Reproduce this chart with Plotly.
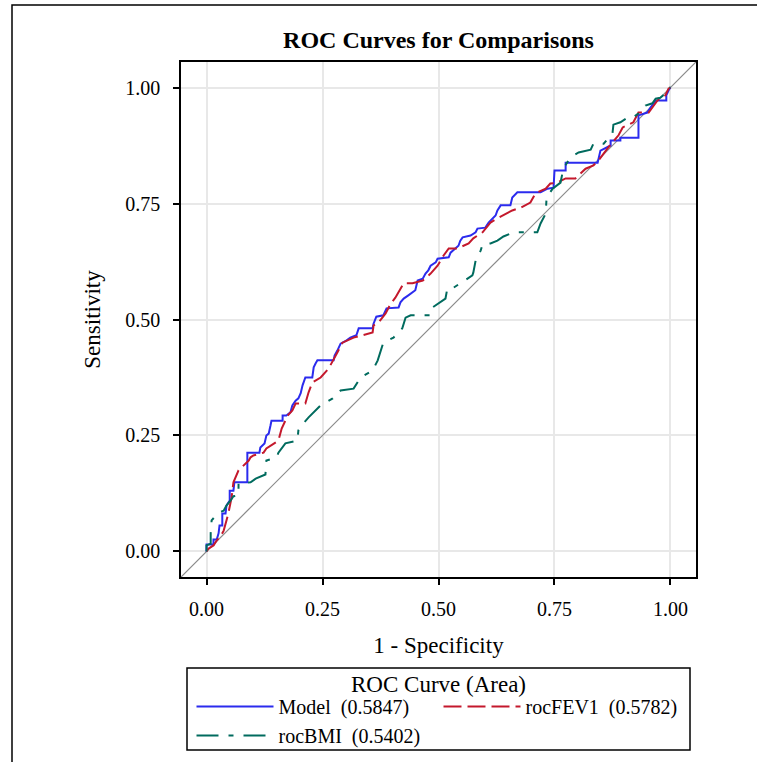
import plotly.graph_objects as go

# ---------------- data ----------------
model_fpr = [0, 0, 0.015, 0.015, 0.022, 0.026, 0.028, 0.034, 0.034, 0.041, 0.043, 0.050, 0.050, 0.058, 0.060,
             0.088, 0.088, 0.114, 0.116, 0.125, 0.129, 0.134, 0.138, 0.140, 0.164, 0.164, 0.172, 0.181, 0.185,
             0.192, 0.198, 0.203, 0.207, 0.213, 0.228, 0.231, 0.235, 0.239, 0.274, 0.276, 0.282, 0.289, 0.302,
             0.310, 0.323, 0.328, 0.358, 0.360, 0.366, 0.381, 0.388, 0.414, 0.418, 0.425, 0.435, 0.450, 0.455,
             0.466, 0.472, 0.478, 0.483, 0.494, 0.498, 0.522, 0.526, 0.532, 0.543, 0.547, 0.552, 0.569, 0.580,
             0.584, 0.601, 0.608, 0.623, 0.627, 0.634, 0.655, 0.659, 0.670, 0.720, 0.735, 0.748, 0.750, 0.774,
             0.774, 0.843, 0.849, 0.871, 0.871, 0.892, 0.892, 0.931, 0.931, 0.950, 0.957, 0.968, 0.991, 0.991,
             0.996, 1.0]
model_tpr = [0, 0.015, 0.015, 0.026, 0.026, 0.039, 0.056, 0.056, 0.082, 0.082, 0.099, 0.110, 0.131, 0.131, 0.149,
             0.149, 0.213, 0.213, 0.224, 0.233, 0.250, 0.254, 0.272, 0.282, 0.282, 0.293, 0.293, 0.300, 0.315,
             0.325, 0.330, 0.341, 0.358, 0.375, 0.375, 0.397, 0.405, 0.412, 0.412, 0.422, 0.433, 0.448, 0.455,
             0.461, 0.466, 0.481, 0.481, 0.491, 0.506, 0.509, 0.524, 0.526, 0.537, 0.545, 0.552, 0.563, 0.584,
             0.588, 0.599, 0.606, 0.616, 0.623, 0.631, 0.634, 0.644, 0.649, 0.659, 0.670, 0.677, 0.681, 0.688,
             0.696, 0.698, 0.709, 0.724, 0.735, 0.746, 0.746, 0.763, 0.774, 0.774, 0.782, 0.784, 0.821, 0.821,
             0.838, 0.838, 0.864, 0.875, 0.886, 0.886, 0.892, 0.892, 0.940, 0.946, 0.957, 0.972, 0.972, 0.983,
             0.994, 1.0]

fev1_fpr = [0, 0.004, 0.015, 0.022, 0.030, 0.037, 0.043, 0.047, 0.054, 0.058, 0.069, 0.073, 0.091, 0.095, 0.101,
            0.123, 0.129, 0.155, 0.162, 0.175, 0.185, 0.192, 0.213, 0.220, 0.228, 0.246, 0.263, 0.282, 0.293,
            0.317, 0.338, 0.358, 0.360, 0.371, 0.386, 0.397, 0.407, 0.425, 0.444, 0.466, 0.483, 0.498, 0.511,
            0.522, 0.541, 0.565, 0.575, 0.595, 0.612, 0.627, 0.659, 0.677, 0.698, 0.709, 0.731, 0.741, 0.756,
            0.774, 0.795, 0.806, 0.817, 0.834, 0.845, 0.866, 0.888, 0.897, 0.920, 0.931, 0.953, 0.961, 0.972,
            0.989, 0.996, 1.0]
fev1_tpr = [0, 0.006, 0.013, 0.024, 0.032, 0.045, 0.067, 0.082, 0.116, 0.149, 0.175, 0.179, 0.196, 0.203, 0.207,
            0.213, 0.222, 0.239, 0.265, 0.293, 0.304, 0.319, 0.319, 0.343, 0.364, 0.375, 0.394, 0.429, 0.450,
            0.461, 0.466, 0.472, 0.487, 0.494, 0.513, 0.534, 0.547, 0.578, 0.578, 0.584, 0.599, 0.616, 0.638,
            0.653, 0.653, 0.664, 0.675, 0.688, 0.709, 0.718, 0.735, 0.741, 0.752, 0.772, 0.782, 0.793, 0.795,
            0.804, 0.804, 0.815, 0.825, 0.832, 0.843, 0.871, 0.897, 0.914, 0.925, 0.946, 0.946, 0.957, 0.972,
            0.983, 0.998, 1.0]

bmi_fpr = [0, 0, 0.009, 0.009, 0.011, 0.026, 0.037, 0.043, 0.052, 0.058, 0.069, 0.069, 0.095, 0.106, 0.127,
           0.129, 0.151, 0.155, 0.170, 0.177, 0.196, 0.198, 0.205, 0.220, 0.246, 0.272, 0.289, 0.317, 0.332,
           0.358, 0.369, 0.381, 0.403, 0.422, 0.429, 0.440, 0.483, 0.487, 0.504, 0.515, 0.519, 0.530, 0.547,
           0.573, 0.575, 0.580, 0.591, 0.595, 0.612, 0.627, 0.640, 0.662, 0.713, 0.720, 0.731, 0.733, 0.746,
           0.763, 0.767, 0.772, 0.784, 0.802, 0.828, 0.834, 0.856, 0.875, 0.877, 0.892, 0.907, 0.918, 0.931,
           0.946, 0.961, 0.968, 0.978, 0.989, 0.996, 1.0]
bmi_tpr = [0, 0.013, 0.017, 0.039, 0.067, 0.084, 0.088, 0.099, 0.110, 0.119, 0.121, 0.147, 0.149, 0.157, 0.166,
           0.196, 0.203, 0.213, 0.233, 0.235, 0.239, 0.261, 0.272, 0.289, 0.315, 0.330, 0.347, 0.351, 0.375,
           0.390, 0.412, 0.450, 0.461, 0.481, 0.504, 0.509, 0.509, 0.526, 0.537, 0.545, 0.567, 0.567, 0.578,
           0.595, 0.601, 0.627, 0.649, 0.662, 0.664, 0.670, 0.679, 0.688, 0.688, 0.707, 0.728, 0.763, 0.782,
           0.795, 0.815, 0.830, 0.849, 0.860, 0.866, 0.879, 0.879, 0.901, 0.920, 0.925, 0.935, 0.935, 0.944,
           0.961, 0.966, 0.976, 0.978, 0.987, 1.0, 1.0]

series_names = ["Model\u00a0 (0.5847)", "rocFEV1\u00a0 (0.5782)", "rocBMI\u00a0 (0.5402)"]
legend_title = "ROC Curve (Area)"
tick_vals = [0, 0.25, 0.5, 0.75, 1.0]
tick_text = ["0.00", "0.25", "0.50", "0.75", "1.00"]
axis_range = [-0.055, 1.055]

FONT = "Liberation Serif"

# plot area in pixels (used to convert layout positions into paper coordinates)
PL, PR, PT, PB = 181, 696, 62, 577
PW, PH = PR - PL, PB - PT


def px_x(px):
    return (px - PL) / PW


def px_y(py):
    return (PB - py) / PH


fig = go.Figure()

# chance diagonal spanning the full axis range
fig.add_trace(go.Scatter(x=axis_range, y=axis_range, mode="lines",
                         line=dict(color="#8A8A8A", width=1.2), showlegend=False, hoverinfo="skip"))

fig.add_trace(go.Scatter(x=model_fpr, y=model_tpr, mode="lines", name=series_names[0],
                         line=dict(color="#2B2BEE", width=2)))
fig.add_trace(go.Scatter(x=fev1_fpr, y=fev1_tpr, mode="lines", name=series_names[1],
                         line=dict(color="#C4182C", width=2, dash="18px,6px")))
fig.add_trace(go.Scatter(x=bmi_fpr, y=bmi_tpr, mode="lines", name=series_names[2],
                         line=dict(color="#006B5E", width=2, dash="22px,10px,5px,10px")))

axis_common = dict(range=axis_range, tickvals=tick_vals, ticktext=tick_text,
                   showline=True, mirror=True, linecolor="black", linewidth=1.5,
                   ticks="outside", ticklen=6, tickwidth=1.5, tickcolor="black",
                   showgrid=True, gridcolor="#E8E8E8", gridwidth=1.5, zeroline=False,
                   tickfont=dict(family=FONT, size=20, color="black"))

fig.update_xaxes(**axis_common, ticklabelstandoff=7,
                 title=dict(text="1 - Specificity", font=dict(family=FONT, size=23, color="black"), standoff=18))
fig.update_yaxes(**axis_common, ticklabelstandoff=9,
                 title=dict(text="Sensitivity", font=dict(family=FONT, size=23, color="black"), standoff=18))

fig.update_layout(
    width=757, height=762,
    margin=dict(l=PL, r=757 - PR, t=PT, b=762 - PB, autoexpand=False),
    paper_bgcolor="white", plot_bgcolor="white",
    title=dict(text="<b>ROC Curves for Comparisons</b>", x=0.5, xref="paper", xanchor="center",
               y=1 - 40 / 762, yanchor="middle", font=dict(family=FONT, size=24, color="black")),
    legend=dict(orientation="h", x=0.5, xanchor="center", y=px_y(687), yanchor="top",
                bgcolor="rgba(0,0,0,0)", borderwidth=0,
                font=dict(family=FONT, size=20, color="black"),
                itemwidth=77, entrywidth=155, entrywidthmode="pixels", traceorder="normal"),
    annotations=[dict(text=legend_title, xref="paper", yref="paper", x=0.5, y=px_y(684),
                      xanchor="center", yanchor="middle", showarrow=False,
                      font=dict(family=FONT, size=23, color="black"))],
    shapes=[
        # outer frame of the graph
        dict(type="rect", xref="paper", yref="paper",
             x0=px_x(12), x1=px_x(770), y0=px_y(780), y1=px_y(5),
             line=dict(color="black", width=1.5), fillcolor="rgba(0,0,0,0)", layer="below"),
        # legend frame
        dict(type="rect", xref="paper", yref="paper",
             x0=px_x(187), x1=px_x(690), y0=px_y(750), y1=px_y(668),
             line=dict(color="black", width=1.5), fillcolor="rgba(0,0,0,0)", layer="below"),
    ],
)

fig.write_html("out.html")
